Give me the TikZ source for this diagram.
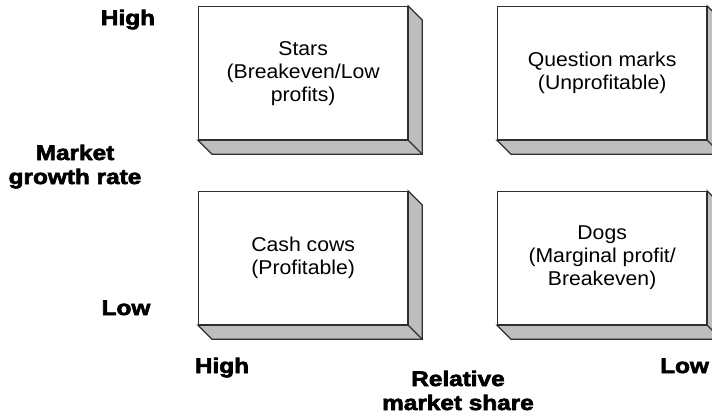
\documentclass[tikz,border=0pt]{standalone}
\usepackage{fontspec}
\setmainfont{Liberation Sans}[FakeStretch=1.06]
\newfontfamily\heavyfont[FakeBold=3,FakeStretch=1.16]{Liberation Sans Bold}
\definecolor{edge}{HTML}{2E2E2E}
\definecolor{sidegray}{HTML}{BEBEBE}
\tikzset{
  face/.style={draw=edge, line width=1.3pt, fill=white, minimum width=209pt,
    minimum height=133pt, inner sep=0pt, align=center, anchor=north west,
    font=\fontsize{20}{23}\selectfont},
  side/.style={draw=edge, line width=1.3pt, fill=sidegray, line join=miter},
  axislabel/.style={font=\heavyfont\fontsize{21}{24}\selectfont, inner sep=0pt,
    align=center, text=black},
}
% a raised box: white front face plus grey right and bottom sides
\newcommand{\raisedbox}[3]{%
  \node[face] (#1) at #2 {#3};
  \filldraw[side] (#1.north east) -- ++(14,14) -- ([shift={(14,14)}]#1.south east)
    -- ([shift={(14,14)}]#1.south west) -- (#1.south west) -- (#1.south east) -- cycle;
  \draw[edge, line width=1.3pt] (#1.south east) -- ([shift={(14,14)}]#1.south east);
}
\begin{document}
\begin{tikzpicture}[x=1pt,y=-1pt]
\useasboundingbox (0,0) rectangle (712,413);

\raisedbox{stars}{(198,6)}{Stars\\(Breakeven/Low\\profits)}
\raisedbox{qmarks}{(497,6)}{Question marks\\(Unprofitable)}
\raisedbox{cows}{(198,191)}{Cash cows\\(Profitable)}
\raisedbox{dogs}{(497,191)}{Dogs\\(Marginal profit/\\Breakeven)}

% vertical axis: market growth rate (base anchor = last line)
\node[axislabel, anchor=base] (ghigh) at (128,25) {High};
\node[axislabel, anchor=base] (gname) at (75,184) {Market\\growth rate};
\node[axislabel, anchor=base] (glow) at (126,315) {Low};

% horizontal axis: relative market share
\node[axislabel, anchor=base] (shigh) at (222,373) {High};
\node[axislabel, anchor=base] (sname) at (458,410) {Relative\\market share};
\node[axislabel, anchor=base west] (slow) at (660,373) {Low};
\end{tikzpicture}
\end{document}
